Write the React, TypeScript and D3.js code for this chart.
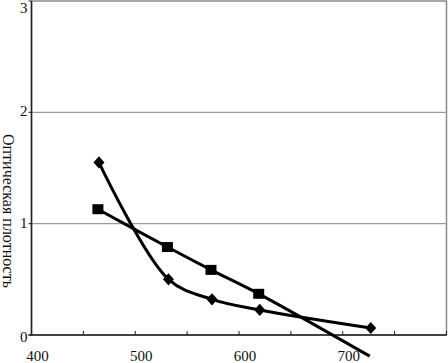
import * as d3 from "d3";
import { useEffect, useRef } from "react";

// wavelength, nm
const diamondX = [465, 532, 574, 620, 727];
const diamondY = [1.55, 0.5, 0.32, 0.225, 0.063];

const squareX = [464, 531, 573, 619];
const squareY = [1.13, 0.79, 0.585, 0.37];
// extrapolated tail of the square series (no marker)
const squareTailX = [726];
const squareTailY = [-0.19];

const xTickLabels = [400, 500, 600, 700];
const xTicks = [400, 450, 500, 550, 600, 650, 700, 750, 800];
const yTickLabels = [0, 1, 2, 3];
const yTitle = "Оптическая плотность";

export default function App(): JSX.Element {
  const svgRef = useRef<SVGSVGElement>(null);

  useEffect(() => {
    if (!svgRef.current) return;
    const width = 448;
    const height = 363;
    const margin = { top: 1, right: 1.5, bottom: 28, left: 31.5 };

    const svg = d3.select(svgRef.current);
    svg.selectAll("*").remove();
    svg.attr("width", width).attr("height", height);

    const x = d3.scaleLinear().domain([400, 800]).range([margin.left, width - margin.right]);
    const y = d3.scaleLinear().domain([0, 3]).range([height - margin.bottom, margin.top]);

    // frame
    svg
      .append("rect")
      .attr("x", margin.left)
      .attr("y", margin.top)
      .attr("width", width - margin.right - margin.left)
      .attr("height", y(0) - margin.top)
      .attr("fill", "none")
      .attr("stroke", "#8a8a8a")
      .attr("stroke-width", 1.5);

    // gridlines
    svg
      .append("g")
      .selectAll("line")
      .data(yTickLabels.filter((d) => d > 0 && d < 3))
      .join("line")
      .attr("x1", margin.left)
      .attr("x2", width - margin.right)
      .attr("y1", (d) => y(d))
      .attr("y2", (d) => y(d))
      .attr("stroke", "#9a9a9a")
      .attr("stroke-width", 1.2);

    // axes lines
    svg
      .append("line")
      .attr("x1", margin.left)
      .attr("x2", margin.left)
      .attr("y1", margin.top)
      .attr("y2", y(0))
      .attr("stroke", "#222")
      .attr("stroke-width", 1.5);
    svg
      .append("line")
      .attr("x1", margin.left - 3)
      .attr("x2", width - margin.right)
      .attr("y1", y(0))
      .attr("y2", y(0))
      .attr("stroke", "#222")
      .attr("stroke-width", 1.5);

    // x ticks
    svg
      .append("g")
      .selectAll("line")
      .data(xTicks)
      .join("line")
      .attr("x1", (d) => x(d))
      .attr("x2", (d) => x(d))
      .attr("y1", y(0))
      .attr("y2", y(0) - 4)
      .attr("stroke", "#222")
      .attr("stroke-width", 1);

    // y ticks
    svg
      .append("g")
      .selectAll("line")
      .data(yTickLabels)
      .join("line")
      .attr("x1", margin.left - 3)
      .attr("x2", margin.left)
      .attr("y1", (d) => y(d))
      .attr("y2", (d) => y(d))
      .attr("stroke", "#222")
      .attr("stroke-width", 1);

    const font = "'Liberation Serif', 'Times New Roman', serif";

    svg
      .append("g")
      .selectAll("text")
      .data(xTickLabels)
      .join("text")
      .attr("x", (d) => x(d) + 6)
      .attr("y", height - 2)
      .attr("text-anchor", "middle")
      .style("font-family", font)
      .style("font-size", "15px")
      .style("fill", "#111")
      .text((d) => d);

    svg
      .append("g")
      .selectAll("text")
      .data(yTickLabels)
      .join("text")
      .attr("x", margin.left - 4)
      .attr("y", (d) => y(d) + (d === 0 ? 7 : d === 3 ? 12 : 4))
      .attr("text-anchor", "end")
      .style("font-family", font)
      .style("font-size", "15px")
      .style("fill", "#111")
      .text((d) => d);

    svg
      .append("text")
      .attr("transform", `translate(3,211) rotate(90)`)
      .attr("text-anchor", "middle")
      .style("font-family", font)
      .style("font-size", "16px")
      .style("fill", "#111")
      .text(yTitle);

    const line = d3
      .line<[number, number]>()
      .x((d) => x(d[0]))
      .y((d) => y(d[1]))
      .curve(d3.curveCatmullRom.alpha(0.5));

    const diamonds: [number, number][] = diamondX.map((v, i) => [v, diamondY[i]]);
    const squares: [number, number][] = squareX.map((v, i) => [v, squareY[i]]);
    const squareTail: [number, number][] = squareTailX.map((v, i) => [v, squareTailY[i]]);

    svg
      .append("path")
      .datum(diamonds)
      .attr("d", line)
      .attr("fill", "none")
      .attr("stroke", "#000")
      .attr("stroke-width", 3);

    svg
      .append("path")
      .datum([...squares, ...squareTail])
      .attr("d", line)
      .attr("fill", "none")
      .attr("stroke", "#000")
      .attr("stroke-width", 3);

    svg
      .append("g")
      .selectAll("path")
      .data(diamonds)
      .join("path")
      .attr("d", d3.symbol(d3.symbolDiamond2, 95)() as string)
      .attr("transform", (d) => `translate(${x(d[0])},${y(d[1])}) scale(0.9,1)`)
      .attr("fill", "#000");

    svg
      .append("g")
      .selectAll("rect")
      .data(squares)
      .join("rect")
      .attr("x", (d) => x(d[0]) - 5.5)
      .attr("y", (d) => y(d[1]) - 5)
      .attr("width", 11)
      .attr("height", 10)
      .attr("fill", "#000");
  }, []);

  return (
    <div style={{ position: "absolute", left: 0, top: 0 }}>
      <svg ref={svgRef} style={{ display: "block", background: "#fff" }} />
    </div>
  );
}
